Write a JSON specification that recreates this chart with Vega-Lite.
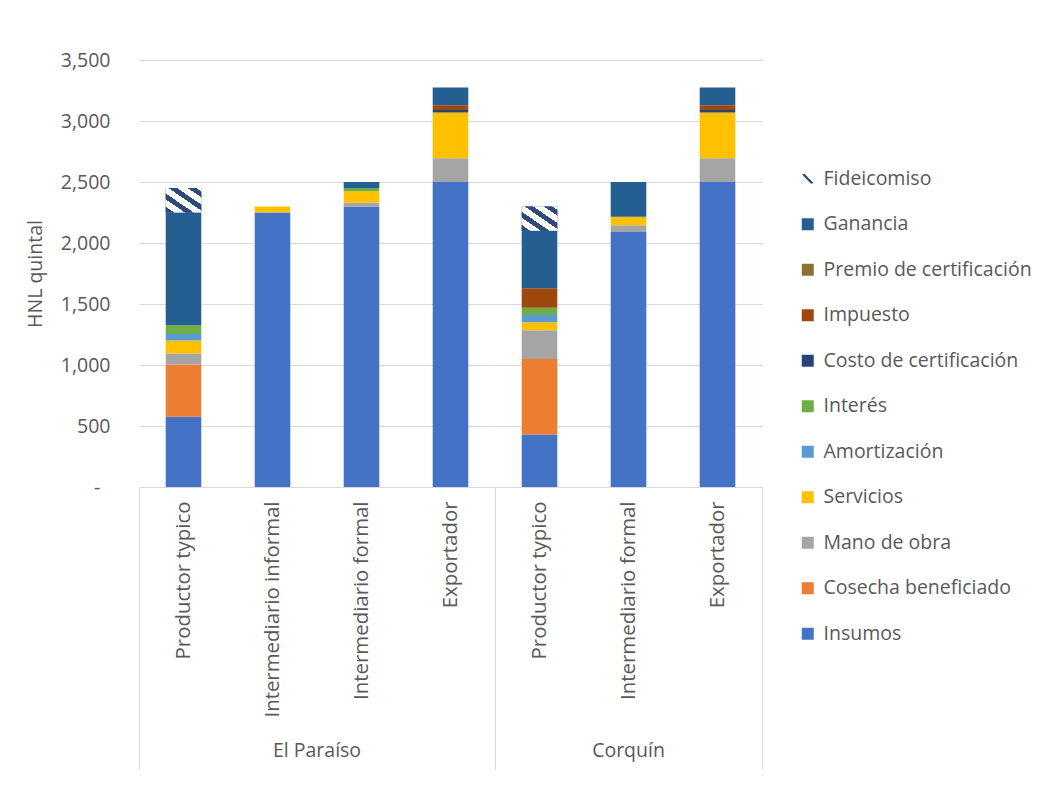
{
  "$schema": "https://vega.github.io/schema/vega-lite/v6.json",
  "background": "white",
  "padding": {"left": 25, "top": 50, "right": 0, "bottom": 0},
  "data": {
    "values": [
      {"region": "El Paraíso", "actor": "Productor typico", "rubro": "Insumos", "valor": 575},
      {"region": "El Paraíso", "actor": "Productor typico", "rubro": "Cosecha beneficiado", "valor": 430},
      {"region": "El Paraíso", "actor": "Productor typico", "rubro": "Mano de obra", "valor": 90},
      {"region": "El Paraíso", "actor": "Productor typico", "rubro": "Servicios", "valor": 105},
      {"region": "El Paraíso", "actor": "Productor typico", "rubro": "Amortización", "valor": 55},
      {"region": "El Paraíso", "actor": "Productor typico", "rubro": "Interés", "valor": 70},
      {"region": "El Paraíso", "actor": "Productor typico", "rubro": "Ganancia", "valor": 925},
      {"region": "El Paraíso", "actor": "Productor typico", "rubro": "Fideicomiso", "valor": 200},
      {"region": "El Paraíso", "actor": "Intermediario informal", "rubro": "Insumos", "valor": 2250},
      {"region": "El Paraíso", "actor": "Intermediario informal", "rubro": "Servicios", "valor": 50},
      {"region": "El Paraíso", "actor": "Intermediario formal", "rubro": "Insumos", "valor": 2300},
      {"region": "El Paraíso", "actor": "Intermediario formal", "rubro": "Mano de obra", "valor": 30},
      {"region": "El Paraíso", "actor": "Intermediario formal", "rubro": "Servicios", "valor": 95},
      {"region": "El Paraíso", "actor": "Intermediario formal", "rubro": "Interés", "valor": 25},
      {"region": "El Paraíso", "actor": "Intermediario formal", "rubro": "Ganancia", "valor": 50},
      {"region": "El Paraíso", "actor": "Exportador", "rubro": "Insumos", "valor": 2500},
      {"region": "El Paraíso", "actor": "Exportador", "rubro": "Mano de obra", "valor": 195},
      {"region": "El Paraíso", "actor": "Exportador", "rubro": "Servicios", "valor": 375},
      {"region": "El Paraíso", "actor": "Exportador", "rubro": "Costo de certificación", "valor": 20},
      {"region": "El Paraíso", "actor": "Exportador", "rubro": "Impuesto", "valor": 40},
      {"region": "El Paraíso", "actor": "Exportador", "rubro": "Ganancia", "valor": 145},
      {"region": "Corquín", "actor": "Productor typico", "rubro": "Insumos", "valor": 430},
      {"region": "Corquín", "actor": "Productor typico", "rubro": "Cosecha beneficiado", "valor": 620},
      {"region": "Corquín", "actor": "Productor typico", "rubro": "Mano de obra", "valor": 235},
      {"region": "Corquín", "actor": "Productor typico", "rubro": "Servicios", "valor": 65},
      {"region": "Corquín", "actor": "Productor typico", "rubro": "Amortización", "valor": 60},
      {"region": "Corquín", "actor": "Productor typico", "rubro": "Interés", "valor": 60},
      {"region": "Corquín", "actor": "Productor typico", "rubro": "Impuesto", "valor": 160},
      {"region": "Corquín", "actor": "Productor typico", "rubro": "Ganancia", "valor": 470},
      {"region": "Corquín", "actor": "Productor typico", "rubro": "Fideicomiso", "valor": 200},
      {"region": "Corquín", "actor": "Intermediario formal", "rubro": "Insumos", "valor": 2090},
      {"region": "Corquín", "actor": "Intermediario formal", "rubro": "Mano de obra", "valor": 55},
      {"region": "Corquín", "actor": "Intermediario formal", "rubro": "Servicios", "valor": 70},
      {"region": "Corquín", "actor": "Intermediario formal", "rubro": "Ganancia", "valor": 285},
      {"region": "Corquín", "actor": "Exportador", "rubro": "Insumos", "valor": 2500},
      {"region": "Corquín", "actor": "Exportador", "rubro": "Mano de obra", "valor": 195},
      {"region": "Corquín", "actor": "Exportador", "rubro": "Servicios", "valor": 375},
      {"region": "Corquín", "actor": "Exportador", "rubro": "Costo de certificación", "valor": 20},
      {"region": "Corquín", "actor": "Exportador", "rubro": "Impuesto", "valor": 40},
      {"region": "Corquín", "actor": "Exportador", "rubro": "Ganancia", "valor": 145}
    ]
  },
  "transform": [
    {"stack": "valor", "groupby": ["region", "actor"], "as": ["v0", "v1"]}
  ],
  "facet": {
    "column": {
      "field": "region",
      "type": "nominal",
      "sort": ["El Paraíso", "Corquín"],
      "header": {
        "title": null,
        "labelOrient": "bottom",
        "labelFont": "Open Sans",
        "labelFontSize": 19.5,
        "labelColor": "#595959",
        "labelPadding": -28
      }
    }
  },
  "spacing": -11,
  "resolve": {"scale": {"x": "independent"}},
  "spec": {
    "width": {"step": 89},
    "height": 427,
    "encoding": {
      "x": {
        "field": "actor",
        "type": "nominal",
        "sort": ["Productor typico", "Intermediario informal", "Intermediario formal", "Exportador"],
        "scale": {"paddingInner": 0, "paddingOuter": 0},
        "axis": {
          "title": null,
          "labelAngle": -90,
          "labelFontSize": 20.4,
          "labelPadding": -268,
          "labelLimit": 400,
          "tickBand": "extent",
          "tickSize": 282,
          "tickColor": "#D9D9D9",
          "tickOpacity": {"condition": {"test": "datum.value === 'Exportador' || datum.extra", "value": 1}, "value": 0},
          "domainColor": "#D9D9D9"
        }
      },
      "y": {
        "field": "v1",
        "type": "quantitative",
        "scale": {"domain": [0, 3500]},
        "axis": {
          "title": "HNL quintal",
          "values": [0, 500, 1000, 1500, 2000, 2500, 3000, 3500],
          "format": ",.0f",
          "labelExpr": "datum.value === 0 ? '-\u00a0\u00a0\u200b' : datum.label",
          "domain": false,
          "ticks": false,
          "labelPadding": 19,
          "titlePadding": 15,
          "gridColor": "#D9D9D9"
        }
      },
      "y2": {"field": "v0"}
    },
    "layer": [
      {
        "mark": {"type": "bar", "width": {"band": 0.4}},
        "encoding": {
          "color": {
            "field": "rubro",
            "type": "nominal",
            "scale": {
              "domain": ["Fideicomiso", "Ganancia", "Premio de certificación", "Impuesto", "Costo de certificación", "Interés", "Amortización", "Servicios", "Mano de obra", "Cosecha beneficiado", "Insumos"],
              "range": ["#2E4A7A", "#255E91", "#8A7130", "#9E480E", "#264478", "#70AD47", "#5B9BD5", "#FFC000", "#A5A5A5", "#ED7D31", "#4472C4"]
            },
            "legend": {
              "title": null,
              "orient": "none",
              "legendX": 659,
              "legendY": 109,
              "symbolType": "square",
              "symbolSize": 144,
              "symbolStrokeWidth": 0,
              "rowPadding": 24.5,
              "labelFont": "Open Sans",
              "labelFontSize": 19.5,
              "labelColor": "#595959",
              "labelOffset": 6,
              "labelLimit": 300,
              "encode": {
                "symbols": {
                  "update": {
                    "shape": {"signal": "datum.value === 'Fideicomiso' ? 'M-0.95,-0.7L-0.55,-0.85L0.95,0.7L0.55,0.85Z' : 'square'"}
                  }
                }
              }
            }
          }
        }
      },
      {
        "transform": [{"filter": "datum.rubro === 'Fideicomiso'"}],
        "mark": {
          "type": "bar",
          "width": {"band": 0.4},
          "fill": {
            "gradient": "linear",
            "x1": 0, "y1": 1, "x2": 1, "y2": 0,
            "stops": [
              {"offset": 0, "color": "#2E4A7A"},
              {"offset": 0.12, "color": "#2E4A7A"},
              {"offset": 0.12, "color": "#FFFFFF"},
              {"offset": 0.27, "color": "#FFFFFF"},
              {"offset": 0.27, "color": "#2E4A7A"},
              {"offset": 0.39, "color": "#2E4A7A"},
              {"offset": 0.39, "color": "#FFFFFF"},
              {"offset": 0.54, "color": "#FFFFFF"},
              {"offset": 0.54, "color": "#2E4A7A"},
              {"offset": 0.66, "color": "#2E4A7A"},
              {"offset": 0.66, "color": "#FFFFFF"},
              {"offset": 0.81, "color": "#FFFFFF"},
              {"offset": 0.81, "color": "#2E4A7A"},
              {"offset": 0.93, "color": "#2E4A7A"},
              {"offset": 0.93, "color": "#FFFFFF"},
              {"offset": 1, "color": "#FFFFFF"}
            ]
          }
        }
      }
    ]
  },
  "config": {
    "font": "Open Sans",
    "view": {"stroke": null},
    "axis": {
      "labelFont": "Open Sans",
      "labelFontSize": 19.5,
      "labelColor": "#595959",
      "titleFont": "Open Sans",
      "titleFontSize": 19.5,
      "titleFontWeight": "normal",
      "titleColor": "#595959"
    }
  }
}
